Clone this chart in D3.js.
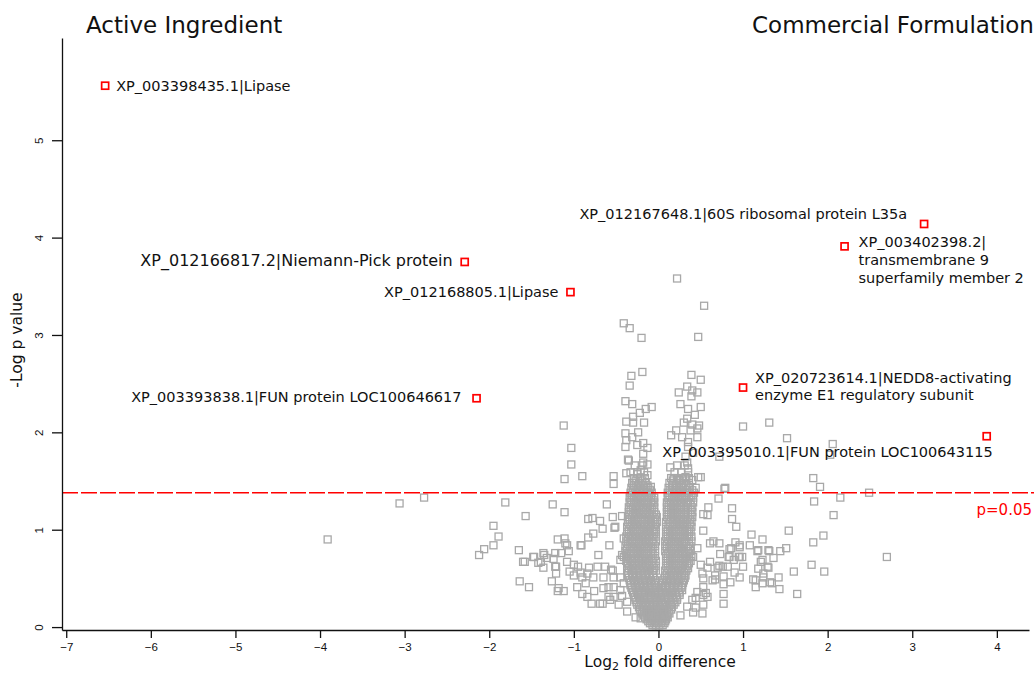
<!DOCTYPE html>
<html>
<head>
<meta charset="utf-8">
<script src="https://cdn.jsdelivr.net/npm/d3@7"></script>
<style>
  body { margin: 0; background: #fff; }
  text { font-family: "DejaVu Sans", sans-serif; }
  .tick text { font-family: "Liberation Sans", Arial, sans-serif; font-size: 11.5px; }
</style>
</head>
<body>
<div id="chart"></div>
<script>
var width = 1035;
var height = 674;

var xTicks = [-7, -6, -5, -4, -3, -2, -1, 0, 1, 2, 3, 4];
var yTicks = [0, 1, 2, 3, 4, 5];
var threshold = 1.38;
var thresholdLabel = "p=0.05";

// named proteins (log2 fold difference, -log p)
var hitNames = [
  ["XP_003398435.1|Lipase"],
  ["XP_012166817.2|Niemann-Pick protein"],
  ["XP_012168805.1|Lipase"],
  ["XP_003393838.1|FUN protein LOC100646617"],
  ["XP_012167648.1|60S ribosomal protein L35a"],
  ["XP_003402398.2|", "transmembrane 9", "superfamily member 2"],
  ["XP_020723614.1|NEDD8-activating", "enzyme E1 regulatory subunit"],
  ["XP_003395010.1|FUN protein LOC100643115"]
];
var hitFold = [-6.54, -2.29, -1.04, -2.15, 3.14, 2.20, 1.00, 3.88];
var hitLogP = [5.56, 3.75, 3.44, 2.35, 4.14, 3.91, 2.46, 1.96];

// scattered proteins [log2 fold, -log p]
var scattered = [
  [-3.91,0.90],[-3.06,1.27],[-2.77,1.33],
  [-1.81,1.28],[-1.25,1.26],[-1.11,1.18],[-1.57,1.14],[-1.95,1.04],[-1.89,0.93],[-1.95,0.84],
  [-2.06,0.80],[-2.12,0.74],[-1.65,0.79],[-1.64,0.47],[-1.53,0.41],[-1.60,0.67],[-1.47,0.72],
  [-1.39,0.67],[-1.36,0.76],[-1.32,0.71],[-1.22,0.76],[-1.21,0.62],[-1.26,0.47],[-1.19,0.37],
  [-1.12,0.37],[-1.19,0.90],[-1.11,0.91],[-1.10,0.86],[-1.06,0.78],[-1.08,0.67],[-1.05,0.57],
  [-1.00,0.53],[-0.95,0.62],[-0.92,0.84],[-0.83,0.92],[-0.77,0.96],[-0.66,1.01],[-0.83,1.11],
  [-0.78,1.12],[-0.69,1.09],[-0.61,1.26],[-0.54,1.13],[-0.52,1.02],[-0.58,0.84],[-0.71,0.74],
  [-0.72,0.62],[-0.84,0.55],[-0.90,0.51],[-0.86,0.45],[-0.96,0.41],[-0.84,0.31],[-0.79,0.24],
  [-0.69,0.24],[-0.76,0.37],[-0.65,0.40],[-0.59,0.31],[-0.56,0.59],[-0.53,0.51],[-0.45,0.51],
  [-0.53,0.41],[-0.41,0.45],[-0.43,0.32],[-0.37,0.26],[-0.37,0.16],[-0.27,0.10],[-0.41,0.72],
  [-0.41,0.91],[-0.53,1.55],[-0.53,1.47],[-0.38,1.58],[-0.35,1.71],[-1.11,1.52],[-0.90,1.55],
  [-1.03,1.67],[-1.03,1.84],[-1.12,2.07],[-1.48,0.72],[-1.36,0.61],[-1.58,0.67],[-1.42,0.66],
  [-1.35,0.74],[-1.15,0.76],[-1.24,0.70],[-1.22,0.62],[-1.21,0.55],[-1.18,0.40],[-0.43,1.14],
  [-0.51,1.03],[-0.91,0.84],[-1.08,0.84],[-0.43,0.74],[-0.45,0.69],[-1.00,0.64],[-0.92,0.56],
  [-0.82,0.61],[-0.63,0.62],[-0.54,0.58],[-0.77,0.51],[-0.65,0.51],[-0.59,0.41],[-0.53,0.31],
  [-0.45,0.38],[-0.90,0.34],[-0.66,0.24],[-0.57,0.28],[-0.47,0.23],[-0.21,0.09],
  [0.22,3.58],[0.54,3.30],[-0.41,3.12],[-0.34,3.07],[-0.20,2.97],[0.47,2.98],[-0.19,2.62],
  [-0.32,2.58],[-0.34,2.48],[0.39,2.59],[0.50,2.54],[0.34,2.47],[0.40,2.43],[0.46,2.41],
  [0.24,2.41],[0.39,2.37],[0.26,2.29],[0.50,2.26],[0.35,2.24],[0.43,2.18],[0.34,2.14],
  [0.30,2.10],[0.40,2.08],[0.48,2.07],[0.21,2.02],[0.38,2.02],[0.46,2.04],[0.15,1.97],
  [0.28,1.95],[0.46,1.95],[0.35,1.90],[-0.39,2.32],[-0.31,2.29],[-0.08,2.26],[-0.15,2.24],
  [-0.22,2.20],[-0.38,2.11],[-0.30,2.10],[-0.17,2.10],[-0.30,2.16],[-0.39,1.99],[-0.31,1.95],
  [-0.24,2.00],[-0.38,1.92],[-0.25,1.87],[-0.18,1.89],[-0.13,1.84],[-0.39,1.85],[-0.18,1.78],
  [0.35,1.85],[0.41,1.79],[0.32,1.75],[-0.36,1.72],[-0.18,1.69],[-0.13,1.67],[0.34,1.69],
  [0.14,1.64],[0.35,1.63],[-0.21,1.61],[-0.13,1.56],[-0.25,1.57],[-0.31,1.48],[-0.09,1.44],
  [0.18,1.53],[0.24,1.51],[0.32,1.54],[0.40,1.51],[0.50,1.54],[0.44,1.43],[0.79,1.43],
  [0.71,1.32],[0.47,1.54],[0.78,1.42],[0.72,1.75],
  [1.00,2.06],[1.31,2.10],[1.52,1.94],[2.06,1.88],[2.03,1.77],[1.83,1.53],[1.91,1.44],
  [1.84,1.29],[2.15,1.33],[2.49,1.38],[2.07,1.15],[1.95,0.94],[1.83,0.87],[2.70,0.72],
  [1.81,0.64],[1.96,0.57],[1.60,0.57],[1.42,0.51],[1.43,0.39],[1.64,0.34],
  [0.59,1.23],[0.58,1.15],[0.87,1.22],[0.87,1.11],[0.92,1.03],[0.53,0.99],[0.61,0.86],
  [0.72,0.86],[1.10,0.95],[1.23,0.90],[0.91,0.87],[0.86,0.81],[0.96,0.82],[0.83,0.72],
  [0.95,0.72],[0.99,0.72],[0.82,0.62],[1.00,0.62],[1.18,0.79],[1.36,0.71],[1.30,0.79],
  [1.21,0.67],[1.30,0.61],[1.24,0.55],[1.15,0.48],[1.23,0.45],[1.34,0.45],[0.72,0.63],
  [0.67,0.53],[0.77,0.44],[0.77,0.34],[0.77,0.24],[0.52,0.14],[0.53,0.33],[0.44,0.30],
  [0.41,0.15],[1.54,0.99],[1.51,0.81],[1.44,0.78],[1.31,0.78],[1.17,0.78],[1.08,0.84],
  [1.32,0.46],[1.12,0.49],[1.15,0.41],[1.24,0.51],[1.29,0.62],[1.23,0.69],[1.18,0.60],
  [0.96,0.51],[0.96,0.72],[0.89,0.69],[0.84,0.72],[0.96,0.84],[0.84,0.80],[0.73,0.75],
  [0.65,0.88],[0.70,0.61],[0.76,0.62],[0.61,0.67],[0.67,0.49],[0.77,0.52],[0.85,0.46],
  [0.90,0.56],[0.56,0.35],[0.58,0.31],[0.52,0.55],[0.53,0.50],[0.53,1.16],[0.46,0.81],
  [0.41,0.72],[0.50,0.64],[0.58,0.61],[0.64,0.48],[0.53,0.41],[0.46,0.36],[0.40,0.28],
  [0.34,0.21],[0.26,0.12],[0.53,0.23],[0.44,0.20]
];

// the crowded V near zero, row by row: [-log p, [log2 folds]]
var denseRows = [
  [0.02, [-0.07,-0.03,0.01,0.05]],
  [0.06, [-0.12,-0.08,-0.04,0.00,0.04,0.08]],
  [0.10, [-0.16,-0.11,-0.07,-0.02,0.02,0.06,0.11]],
  [0.14, [-0.19,-0.14,-0.10,-0.05,-0.01,0.04,0.08,0.13]],
  [0.18, [-0.22,-0.17,-0.12,-0.08,-0.03,0.01,0.06,0.10,0.15]],
  [0.23, [-0.25,-0.20,-0.15,-0.10,-0.05,0.00,0.05,0.09,0.14,0.18]],
  [0.28, [-0.27,-0.22,-0.17,-0.12,-0.07,-0.02,0.03,0.08,0.13,0.18,0.22]],
  [0.33, [-0.29,-0.24,-0.19,-0.14,-0.09,-0.04,0.01,0.06,0.11,0.16,0.21,0.25]],
  [0.38, [-0.31,-0.26,-0.21,-0.16,-0.11,-0.06,-0.01,0.04,0.09,0.14,0.19,0.24,0.28]],
  [0.43, [-0.33,-0.28,-0.23,-0.18,-0.13,-0.08,-0.03,0.03,0.08,0.13,0.18,0.23,0.28]],
  [0.48, [-0.34,-0.29,-0.24,-0.19,-0.14,-0.09,-0.04,0.05,0.10,0.15,0.20,0.25,0.30]],
  [0.53, [-0.36,-0.31,-0.26,-0.21,-0.16,-0.11,-0.06,0.08,0.13,0.18,0.23,0.28,0.32]],
  [0.58, [-0.37,-0.32,-0.27,-0.22,-0.17,-0.12,-0.07,-0.03,0.08,0.13,0.18,0.23,0.28,0.33]],
  [0.63, [-0.37,-0.33,-0.28,-0.23,-0.18,-0.13,-0.08,-0.03,0.09,0.14,0.19,0.24,0.29,0.34]],
  [0.68, [-0.38,-0.33,-0.28,-0.23,-0.18,-0.13,-0.08,-0.03,0.09,0.14,0.19,0.24,0.29,0.34,0.38]],
  [0.73, [-0.38,-0.33,-0.29,-0.24,-0.19,-0.14,-0.09,-0.04,0.09,0.14,0.19,0.24,0.29,0.34,0.39]],
  [0.78, [-0.39,-0.34,-0.29,-0.24,-0.19,-0.14,-0.09,-0.04,0.08,0.13,0.18,0.23,0.28,0.33,0.38]],
  [0.83, [-0.39,-0.34,-0.29,-0.24,-0.19,-0.14,-0.09,-0.04,0.08,0.13,0.18,0.23,0.28,0.33,0.38]],
  [0.88, [-0.38,-0.33,-0.28,-0.23,-0.18,-0.13,-0.08,-0.03,0.08,0.13,0.18,0.23,0.28,0.33,0.39]],
  [0.93, [-0.38,-0.33,-0.28,-0.23,-0.18,-0.13,-0.08,-0.03,0.09,0.14,0.19,0.24,0.29,0.34,0.39]],
  [0.98, [-0.37,-0.32,-0.27,-0.22,-0.17,-0.12,-0.07,-0.03,0.09,0.14,0.19,0.24,0.29,0.34,0.38]],
  [1.03, [-0.37,-0.32,-0.27,-0.22,-0.17,-0.12,-0.07,-0.03,0.09,0.14,0.19,0.24,0.29,0.34,0.39]],
  [1.08, [-0.36,-0.31,-0.26,-0.21,-0.16,-0.11,-0.06,-0.02,0.09,0.14,0.19,0.24,0.29,0.34,0.39]],
  [1.13, [-0.36,-0.31,-0.26,-0.21,-0.16,-0.11,-0.06,-0.02,0.10,0.15,0.20,0.25,0.30,0.35,0.40]],
  [1.18, [-0.35,-0.30,-0.25,-0.20,-0.15,-0.10,-0.05,0.10,0.15,0.20,0.25,0.30,0.35,0.40]],
  [1.23, [-0.35,-0.30,-0.25,-0.20,-0.15,-0.10,-0.05,0.10,0.15,0.20,0.25,0.30,0.35,0.40]],
  [1.28, [-0.34,-0.29,-0.24,-0.19,-0.14,-0.09,-0.05,0.10,0.15,0.20,0.25,0.30,0.35,0.41]],
  [1.33, [-0.34,-0.29,-0.24,-0.19,-0.14,-0.09,-0.05,0.11,0.16,0.21,0.26,0.31,0.36,0.41]],
  [1.38, [-0.33,-0.28,-0.23,-0.18,-0.13,-0.08,0.11,0.16,0.21,0.26,0.31,0.36,0.42]],
  [1.43, [-0.32,-0.27,-0.22,-0.17,-0.12,0.12,0.17,0.22,0.27,0.32,0.37]],
  [1.48, [-0.31,-0.26,-0.20,-0.15,0.13,0.19,0.24,0.30,0.36]],
  [1.53, [-0.29,-0.22,-0.16,0.15,0.22,0.29,0.36]],
  [1.59, [-0.33,-0.25,-0.17,0.19,0.27,0.35]],
  [1.66, [-0.28,-0.19,0.22,0.31]]
];

// more of the crowded V, read between the rows above
var denseRowsB = [
  [0.04, [-0.10,-0.05,-0.01,0.03,0.07]],
  [0.08, [-0.14,-0.09,-0.05,0.00,0.04,0.09]],
  [0.12, [-0.17,-0.12,-0.08,-0.03,0.01,0.06,0.10]],
  [0.16, [-0.20,-0.15,-0.10,-0.06,-0.01,0.03,0.08,0.12]],
  [0.205, [-0.23,-0.18,-0.13,-0.08,-0.03,0.02,0.07,0.12,0.16]],
  [0.255, [-0.26,-0.21,-0.16,-0.11,-0.06,-0.01,0.04,0.09,0.15,0.20]],
  [0.305, [-0.28,-0.23,-0.18,-0.13,-0.08,-0.03,0.02,0.07,0.12,0.17,0.22]],
  [0.355, [-0.30,-0.25,-0.20,-0.15,-0.10,-0.05,0.00,0.05,0.10,0.15,0.20,0.25]],
  [0.405, [-0.32,-0.27,-0.22,-0.17,-0.12,-0.07,-0.02,0.03,0.08,0.13,0.18,0.23,0.27]],
  [0.455, [-0.33,-0.28,-0.23,-0.18,-0.13,-0.08,-0.03,0.04,0.09,0.14,0.19,0.24,0.29]],
  [0.505, [-0.35,-0.30,-0.25,-0.20,-0.15,-0.10,-0.06,0.07,0.12,0.17,0.22,0.27,0.31]],
  [0.555, [-0.36,-0.31,-0.26,-0.21,-0.16,-0.11,-0.06,0.10,0.15,0.20,0.25,0.30]],
  [0.605, [-0.35,-0.30,-0.25,-0.20,-0.15,-0.10,-0.05,0.11,0.16,0.21,0.26,0.31,0.35]],
  [0.655, [-0.36,-0.31,-0.26,-0.21,-0.16,-0.11,-0.06,0.11,0.16,0.21,0.26,0.31,0.36]],
  [0.705, [-0.36,-0.31,-0.26,-0.21,-0.16,-0.11,-0.06,0.11,0.16,0.21,0.26,0.31,0.36]],
  [0.755, [-0.37,-0.32,-0.27,-0.22,-0.17,-0.12,-0.07,0.11,0.16,0.21,0.26,0.31,0.36]],
  [0.805, [-0.37,-0.32,-0.27,-0.22,-0.17,-0.12,-0.07,0.10,0.15,0.20,0.25,0.30,0.35]],
  [0.855, [-0.36,-0.31,-0.26,-0.21,-0.16,-0.11,-0.06,0.10,0.15,0.20,0.25,0.30,0.36]],
  [0.905, [-0.36,-0.31,-0.26,-0.21,-0.16,-0.11,-0.06,0.11,0.16,0.21,0.26,0.31,0.36]],
  [0.955, [-0.35,-0.30,-0.25,-0.20,-0.15,-0.10,-0.05,0.11,0.16,0.21,0.26,0.31,0.36]],
  [1.005, [-0.35,-0.30,-0.25,-0.20,-0.15,-0.10,-0.05,0.11,0.16,0.21,0.26,0.31,0.36]],
  [1.055, [-0.34,-0.29,-0.24,-0.19,-0.14,-0.09,-0.04,0.12,0.17,0.22,0.27,0.32,0.37]],
  [1.105, [-0.34,-0.29,-0.24,-0.19,-0.14,-0.09,-0.04,0.12,0.17,0.22,0.27,0.32,0.37]],
  [1.155, [-0.33,-0.28,-0.23,-0.18,-0.13,-0.08,-0.03,0.12,0.17,0.22,0.27,0.32,0.38]],
  [1.205, [-0.33,-0.28,-0.23,-0.18,-0.13,-0.08,0.12,0.17,0.22,0.27,0.32,0.38]],
  [1.255, [-0.32,-0.27,-0.22,-0.17,-0.12,-0.07,0.12,0.17,0.22,0.27,0.33,0.38]],
  [1.305, [-0.32,-0.27,-0.22,-0.17,-0.12,-0.07,0.13,0.18,0.23,0.28,0.33,0.38]],
  [1.355, [-0.31,-0.26,-0.21,-0.16,-0.11,0.13,0.18,0.23,0.28,0.33,0.39]],
  [1.405, [-0.30,-0.25,-0.20,-0.15,-0.10,0.14,0.19,0.24,0.29,0.34,0.40]],
  [1.455, [-0.29,-0.24,-0.18,-0.13,0.16,0.21,0.27,0.33]],
  [1.505, [-0.27,-0.19,0.17,0.25,0.33]]
];

// label placement for each named protein: anchor, dx, dy, line height, font size
var labelLayout = [
  ["start", 11, 5, 18, 14.5],
  ["end", -12, 4, 18, 16],
  ["end", -12, 5, 18, 14.5],
  ["end", -15, 4, 18, 14.5],
  ["end", -17, -5, 18, 14.5],
  ["start", 14, 1, 18, 14.5],
  ["start", 12, -5, 17.5, 14.5],
  ["end", 6, 21, 18, 14.5]
];

var points = scattered.slice();
denseRows.concat(denseRowsB).forEach(function(r){
  r[1].forEach(function(fx){ points.push([fx, r[0]]); });
});

var hits = hitNames.map(function(n, i){
  return { lines: n, fold: hitFold[i], logp: hitLogP[i], layout: labelLayout[i] };
});

var svg = d3.select("#chart")
  .append("svg")
  .attr("width", width)
  .attr("height", height);

var xScale = d3.scaleLinear().domain([-7.05, 4.38]).range([62, 1029]);
var yScale = d3.scaleLinear().domain([-0.03, 6.05]).range([630, 38]);

var sq = 7;

svg.append("g").selectAll("rect")
  .data(points)
  .enter().append("rect")
  .attr("x", function(d){ return xScale(d[0]) - sq / 2; })
  .attr("y", function(d){ return yScale(d[1]) - sq / 2; })
  .attr("width", sq)
  .attr("height", sq)
  .style("fill", "none")
  .style("stroke", "#a8a8a8")
  .style("stroke-width", 1.3);

// threshold line
svg.append("line")
  .attr("x1", 62)
  .attr("x2", 1034)
  .attr("y1", yScale(threshold))
  .attr("y2", yScale(threshold))
  .style("stroke", "#ff0000")
  .style("stroke-width", 1.4)
  .style("stroke-dasharray", "16,3");

svg.append("text")
  .attr("x", 1032)
  .attr("y", yScale(threshold) + 22)
  .attr("text-anchor", "end")
  .style("font-size", "15px")
  .style("fill", "#ff0000")
  .text(thresholdLabel);

// axes
var xAxis = svg.append("g")
  .attr("transform", "translate(0,630)")
  .call(d3.axisBottom(xScale).tickValues(xTicks).tickSize(8).tickSizeOuter(0).tickPadding(4).tickFormat(d3.format("d")));

var yAxis = svg.append("g")
  .attr("transform", "translate(62,0)")
  .call(d3.axisLeft(yScale).tickValues(yTicks).tickSize(10).tickSizeOuter(0).tickFormat(d3.format("d")));

yAxis.selectAll(".tick text")
  .attr("transform", "rotate(-90)")
  .attr("x", 0)
  .attr("dx", null)
  .attr("dy", null)
  .attr("text-anchor", "middle")
  .attr("y", -19);

xAxis.selectAll(".tick text").attr("dy", "0.75em");

svg.selectAll(".domain, .tick line").style("stroke", "#111").style("stroke-width", 1.3);
svg.selectAll(".tick text").style("fill", "#111");

// highlighted proteins
svg.append("g").selectAll("rect")
  .data(hits)
  .enter().append("rect")
  .attr("x", function(d){ return xScale(d.fold) - sq / 2; })
  .attr("y", function(d){ return yScale(d.logp) - sq / 2; })
  .attr("width", sq)
  .attr("height", sq)
  .style("fill", "#fff")
  .style("stroke", "#ff0000")
  .style("stroke-width", 1.7);

var labels = svg.append("g").selectAll("text")
  .data(hits)
  .enter().append("text")
  .attr("text-anchor", function(d){ return d.layout[0]; })
  .style("font-size", function(d){ return d.layout[4] + "px"; })
  .style("fill", "#111");

labels.selectAll("tspan")
  .data(function(d){
    return d.lines.map(function(l, i){ return { text: l, i: i, d: d }; });
  })
  .enter().append("tspan")
  .attr("x", function(t){ return xScale(t.d.fold) + t.d.layout[1]; })
  .attr("y", function(t){ return yScale(t.d.logp) + t.d.layout[2] + t.i * t.d.layout[3]; })
  .text(function(t){ return t.text; });

// titles
svg.append("text")
  .attr("x", 86)
  .attr("y", 33)
  .style("font-size", "23px")
  .style("fill", "#111")
  .text("Active Ingredient");

svg.append("text")
  .attr("x", 752)
  .attr("y", 33)
  .style("font-size", "23px")
  .style("fill", "#111")
  .text("Commercial Formulation");

var xLab = svg.append("text")
  .attr("x", 660)
  .attr("y", 667)
  .attr("text-anchor", "middle")
  .style("font-size", "15.5px")
  .style("fill", "#111");
xLab.append("tspan").text("Log");
xLab.append("tspan").attr("dy", 3).style("font-size", "11px").text("2");
xLab.append("tspan").attr("dy", -3).text(" fold difference");

svg.append("text")
  .attr("transform", "translate(22,340) rotate(-90)")
  .attr("text-anchor", "middle")
  .style("font-size", "15.5px")
  .style("fill", "#111")
  .text("-Log p value");
</script>
</body>
</html>
